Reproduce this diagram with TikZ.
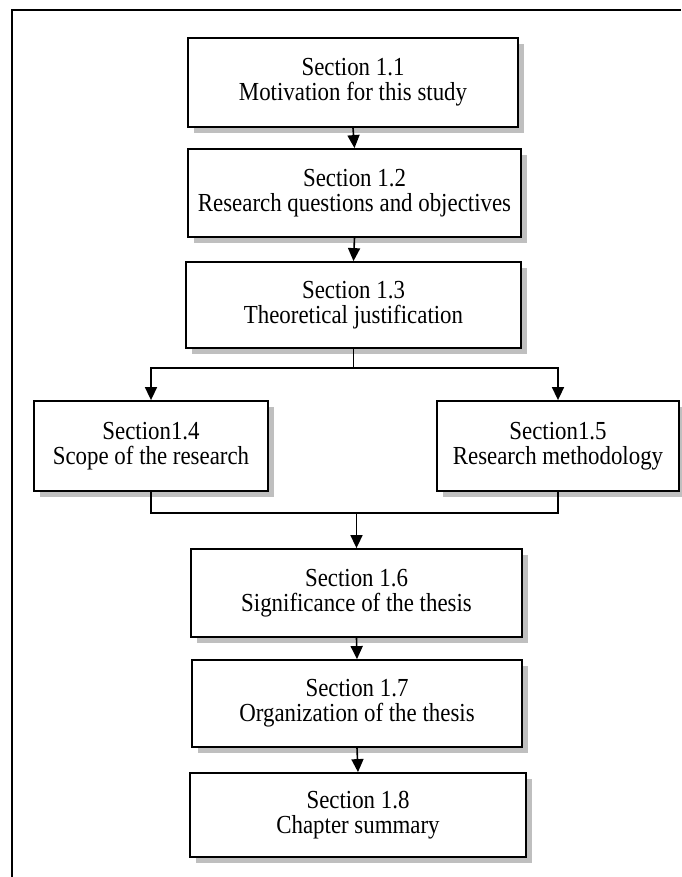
\documentclass[tikz,border=0pt]{standalone}
\usepackage{fontspec}
\setmainfont[FakeStretch=0.88]{Liberation Serif}
\usetikzlibrary{arrows.meta,shadows}
\begin{document}
\begin{tikzpicture}[x=1pt,y=-1pt,
  secbox/.style={draw=black, fill=white, line width=1.8pt, inner sep=0pt,
    align=center, font=\fontsize{26}{25}\selectfont,
    drop shadow={shadow xshift=6pt, shadow yshift=-6pt, fill=black!25, opacity=1}},
  link/.style={line width=1.6pt},
  arr/.style={link, -{Triangle[length=13pt,width=12pt]}},
  frame/.style={line width=2.6pt}]
\useasboundingbox (0,0) rectangle (681,877);

% partial page frame
\draw[frame] (12,877) -- (12,10) -- (681,10);

% section boxes
\node[secbox, minimum width=330pt, minimum height=89pt] (s1) at (353,82.5) {Section 1.1\\Motivation for this study};
\node[secbox, minimum width=333pt, minimum height=88pt] (s2) at (354.5,193) {Section 1.2\\Research questions and objectives};
\node[secbox, minimum width=335pt, minimum height=86pt] (s3) at (353.5,305) {Section 1.3\\Theoretical justification};
\node[secbox, minimum width=234pt, minimum height=90pt] (s4) at (151,446) {Section1.4\\Scope of the research};
\node[secbox, minimum width=242pt, minimum height=90pt] (s5) at (558,446) {Section1.5\\Research methodology};
\node[secbox, minimum width=331pt, minimum height=88pt] (s6) at (356.5,593) {Section 1.6\\Significance of the thesis};
\node[secbox, minimum width=330pt, minimum height=87pt] (s7) at (357,703.5) {Section 1.7\\Organization of the thesis};
\node[secbox, minimum width=336pt, minimum height=84pt] (s8) at (358,815) {Section 1.8\\Chapter summary};

% straight links
\draw[arr] (s1.south) -- (s2.north);
\draw[arr] (s2.south) -- (s3.north);

% split into the two parallel sections
\coordinate (split) at (s3.south |- 0,368);
\draw[link] (s3.south) -- (split);
\draw[arr] (split) -| (s4.north);
\draw[arr] (split) -| (s5.north);

% merge back
\coordinate (merge) at (s6.north |- 0,513);
\draw[link] (s4.south) |- (merge) -| (s5.south);
\draw[arr] (merge) -- (s6.north);

\draw[arr] (s6.south) -- (s7.north);
\draw[arr] (s7.south) -- (s8.north);
\end{tikzpicture}
\end{document}
